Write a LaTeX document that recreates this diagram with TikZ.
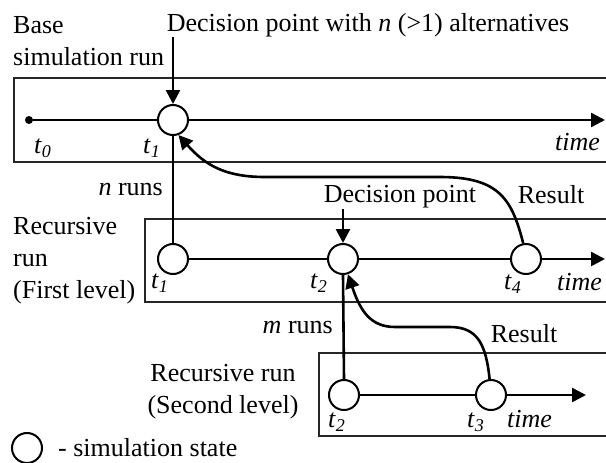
\documentclass[tikz,border=0pt]{standalone}
\usepackage{fontspec}
\setmainfont{Liberation Serif}
\usetikzlibrary{arrows.meta}
% time label: italic t with a lowered italic index
\newcommand{\tlab}[1]{\textit{t}\raisebox{-4pt}{\fontsize{18}{18}\selectfont\textit{#1}}}

\begin{document}
\begin{tikzpicture}[x=1pt,y=-1pt,
  font=\fontsize{26}{32}\selectfont,
  state/.style={circle,draw,fill=white,line width=2pt,minimum size=30pt,inner sep=0pt},
  tline/.style={line width=2.6pt},
  arr/.style={line width=2.6pt,-{Triangle[length=14pt,width=14pt]}},
  runbox/.style={draw=black!85,line width=1.3pt},
  lbl/.style={inner sep=0pt},
  tl/.style={inner sep=0pt,anchor=base west},
]
\useasboundingbox (0,0) rectangle (606,463);
\clip (0,0) rectangle (606,463);

% frames of the three runs (open to the right)
\draw[runbox] (14,78) rectangle (640,162);
\draw[runbox] (145,219) rectangle (640,302);
\draw[runbox] (319,353) rectangle (640,436);

% base simulation run
\node[circle,fill,inner sep=0pt,minimum size=8pt] (t0) at (29,120) {};
\node[state] (c1) at (173,120) {};
\coordinate (e1) at (605,120);
\draw[tline] (t0) -- (c1);
\draw[arr] (c1) -- (e1);

% first level recursive run
\node[state] (c1b) at (173,259) {};
\node[state] (c2) at (343,259) {};
\node[state] (c4) at (526,259) {};
\coordinate (e2) at (605,259);
\draw[tline] (c1b) -- (c2) (c2) -- (c4);
\draw[arr] (c4) -- (e2);

% second level recursive run
\node[state] (c2b) at (344,395) {};
\node[state] (c3) at (491,395) {};
\coordinate (e3) at (586,395);
\draw[tline] (c2b) -- (c3);
\draw[arr] (c3) -- (e3);

% branching into the recursive runs
\draw[tline] (c1.south) -- (c1b.north);
\draw[tline] (c2.south) -- (c2b.north);

% results returned to the decision points
\draw[arr] (c4.100) .. controls (512,200) and (500,177) .. (440,177)
  -- (265,177) .. controls (225,177) and (205,165) .. (c1.-70);
\draw[arr] (c3.95) .. controls (486,345) and (478,327) .. (450,327)
  -- (395,327) .. controls (370,327) and (360,310) .. (c2.-72);

% captions
\node[lbl] (dec1) at (368,25) {Decision point with \textit{n} (>1) alternatives};
\draw[arr] (c1.north |- dec1.south) -- (c1.north);
\node[lbl] (dec2) at (400,197) {Decision point};
\draw[arr] (c2.north |- dec2.south) -- (c2.north);

\node[lbl,align=left,anchor=west] (base) at (13,41) {Base\\simulation run};
\node[lbl,align=left,anchor=west] (rec1) at (13,261) {Recursive\\run\\(First level)};
\node[lbl,align=center] (rec2) at (223,392) {Recursive run\\(Second level)};

\node[lbl,anchor=east] (nr) at (163,190) {\textit{n} runs};
\node[lbl,anchor=east] (mr) at (333,327) {\textit{m} runs};
\node[lbl] (res1) at (551,195) {Result};
\node[lbl] (res2) at (524,334) {Result};

% time labels
\node[tl] (l0) at (34,153) {\tlab{0}};
\node[tl] (l1) at (143,153) {\tlab{1}};
\node[tl] (tm1) at (555,150) {\textit{time}};
\node[tl] (l1b) at (151,288) {\tlab{1}};
\node[tl] (l2) at (310,288) {\tlab{2}};
\node[tl] (l4) at (504,289) {\tlab{4}};
\node[tl] (tm2) at (557,290) {\textit{time}};
\node[tl] (l2b) at (328,427) {\tlab{2}};
\node[tl] (l3) at (467,427) {\tlab{3}};
\node[tl] (tm3) at (507,427) {\textit{time}};

% legend
\node[state] (key) at (27,448) {};
\node[lbl,anchor=west] (keytext) at (58,448) {- simulation state};
\end{tikzpicture}
\end{document}
